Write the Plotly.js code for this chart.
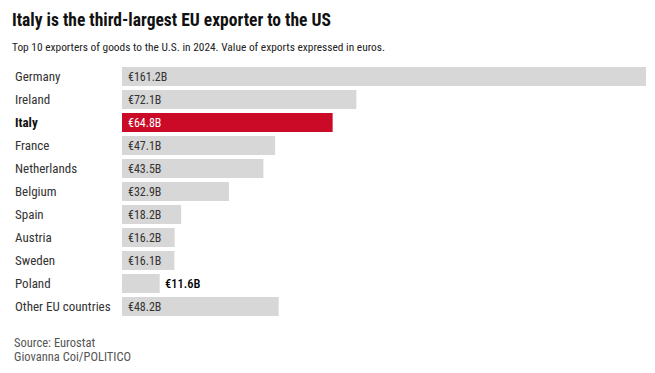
<!DOCTYPE html>
<html>
<head>
<meta charset="utf-8">
<script src="https://cdn.plot.ly/plotly-3.0.1.min.js"></script>
<style>html,body{margin:0;padding:0;background:#fff;}#chart{width:655px;height:373px;}
text{font-stretch:75% !important;}</style>
</head>
<body>
<div id="chart"></div>
<script>
const countries = ["Germany","Ireland","Italy","France","Netherlands","Belgium","Spain","Austria","Sweden","Poland","Other EU countries"];
const values = [161.2,72.1,64.8,47.1,43.5,32.9,18.2,16.2,16.1,11.6,48.2];
const valueLabels = ["€161.2B","€72.1B","€64.8B","€47.1B","€43.5B","€32.9B","€18.2B","€16.2B","€16.1B","€11.6B","€48.2B"];
const highlight = "Italy";

const FONT = "Roboto, sans-serif";
const GRAY = "#d7d7d7", RED = "#ca0a26";

const colors = countries.map(c => c === highlight ? RED : GRAY);

const trace = {
  type: "bar", orientation: "h",
  x: values, y: countries,
  marker: {color: colors},
  hoverinfo: "none"
};

const W = 655, H = 373;
const margin = {l: 122, r: 9.4, t: 65.2, b: 54.8};
const plotW = W - margin.l - margin.r, plotH = H - margin.t - margin.b;
const px2x = p => (p - margin.l) / plotW;
const px2y = p => (H - margin.b - p) / plotH;

const annotations = [];
countries.forEach((c, i) => {
  annotations.push({
    xref: "paper", yref: "y", x: px2x(13), y: c, xanchor: "left", yanchor: "middle",
    text: c === highlight ? "<b>" + c + "</b>" : c, showarrow: false,
    font: {family: FONT, size: 13, color: c === highlight ? "#111" : "#333"}
  });
  const outside = values[i] < 15;
  annotations.push({
    xref: "x", yref: "y", x: outside ? values[i] : 0, y: c,
    xanchor: "left", yanchor: "middle", xshift: outside ? 3 : 4,
    text: valueLabels[i], showarrow: false,
    font: {family: FONT, size: outside ? 12.5 : 12, color: c === highlight ? "#fff" : (outside ? "#000" : "#333"),
           weight: outside ? 500 : 400}
  });
});
annotations.push({xref:"paper",yref:"paper",x:px2x(10),y:px2y(20),xanchor:"left",yanchor:"middle",showarrow:false,
  text:"<b>Italy is the third-largest EU exporter to the US</b>",font:{family:FONT,size:17.5,color:"#111"}});
annotations.push({xref:"paper",yref:"paper",x:px2x(10),y:px2y(47.5),xanchor:"left",yanchor:"middle",showarrow:false,
  text:"Top 10 exporters of goods to the U.S. in 2024. Value of exports expressed in euros.",font:{family:FONT,size:11.4,color:"#222"}});
annotations.push({xref:"paper",yref:"paper",x:px2x(12),y:px2y(343),xanchor:"left",yanchor:"middle",showarrow:false,
  text:"Source: Eurostat",font:{family:FONT,size:12.5,color:"#555"}});
annotations.push({xref:"paper",yref:"paper",x:px2x(12),y:px2y(357),xanchor:"left",yanchor:"middle",showarrow:false,
  text:"Giovanna Coi/POLITICO",font:{family:FONT,size:12.5,color:"#555"}});

const layout = {
  width: W, height: H, margin: margin,
  paper_bgcolor: "#fff", plot_bgcolor: "#fff",
  showlegend: false, bargap: 0.174,
  xaxis: {range: [0, 161.2], visible: false, fixedrange: true},
  yaxis: {autorange: "reversed", visible: false, categoryorder: "array", categoryarray: countries, fixedrange: true},
  annotations: annotations
};

Plotly.newPlot("chart", [trace], layout, {staticPlot: true, displayModeBar: false});
</script>
</body>
</html>
